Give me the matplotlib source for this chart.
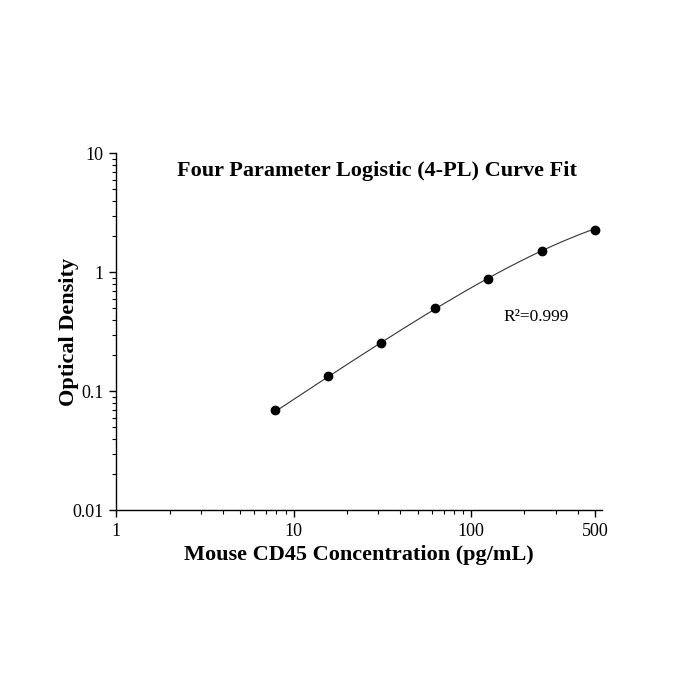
import numpy as np
import matplotlib
matplotlib.use('Agg')
from matplotlib import pyplot as plt

# standard points
conc = [7.8125, 15.625, 31.25, 62.5, 125, 250, 500]
od = [0.069, 0.134, 0.256, 0.497, 0.879, 1.51, 2.28]

# 4-PL fit parameters (bottom, slope, ec50, top)
fit_a = 0.0
fit_b = 1.0
fit_c = 575.0
fit_d = 5.0

x_ticks = [1, 10, 100, 500]
x_ticklabels = ['1', '10', '100', '500']
y_ticks = [0.01, 0.1, 1, 10]
y_ticklabels = ['0.01', '0.1', '1', '10']

plt.rcParams['font.family'] = ['Liberation Serif', 'DejaVu Serif']

fig = plt.figure(figsize=(7, 7), dpi=100)
ax = fig.add_axes([0.166, 0.271, 0.694, 0.51])

# kurva fit
xs = np.logspace(np.log10(conc[0]), np.log10(conc[-1]), 200)
ys = fit_d + (fit_a - fit_d) / (1 + (xs / fit_c) ** fit_b)
ax.plot(xs, ys, color='#333333', lw=0.8)

# titik data
ax.plot(conc, od, 'o', color='black', ms=6)

ax.set_xscale('log')
ax.set_yscale('log')
ax.set_xlim(1, 547)
ax.set_ylim(0.01, 10)
ax.set_xticks(x_ticks)
ax.set_xticklabels(x_ticklabels)
ax.set_yticks(y_ticks)
ax.set_yticklabels(y_ticklabels)

for s in ['top', 'right']:
    ax.spines[s].set_visible(False)
for s in ['left', 'bottom']:
    ax.spines[s].set_linewidth(1.0)

ax.tick_params(which='major', direction='out', length=5, width=1, labelsize=13, pad=4)
ax.tick_params(which='minor', direction='out', length=3, width=0.8)

ax.set_xlabel('Mouse CD45 Concentration (pg/mL)', fontsize=16, fontweight='bold', labelpad=4)
ax.set_ylabel('Optical Density', fontsize=16, fontweight='bold', labelpad=-5)

ax.text(0.537, 0.95, 'Four Parameter Logistic (4-PL) Curve Fit', transform=ax.transAxes,
        ha='center', va='center', fontsize=16, fontweight='bold')
ax.text(0.864, 0.542, 'R²=0.999', transform=ax.transAxes, ha='center', va='center',
        fontsize=12.5)

fig.savefig('out.png', dpi=100)
